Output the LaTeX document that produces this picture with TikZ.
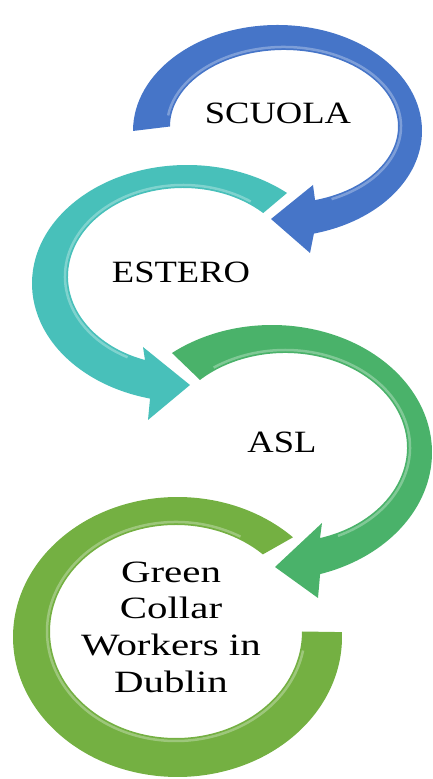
\documentclass[tikz,border=0pt]{standalone}
\usepackage{fontspec}
\newfontfamily\lblfont{Liberation Serif}[FakeStretch=1.18]
\newfontfamily\widefont{Liberation Serif}[FakeStretch=1.32]
\usetikzlibrary{calc}

\definecolor{scuolablue}{RGB}{70,117,200}
\definecolor{esterotea}{RGB}{72,192,186}
\definecolor{aslgreen}{RGB}{74,178,106}
\definecolor{dublingreen}{RGB}{116,176,66}

\tikzset{
  band/.style={fill=#1},
  shine/.style={draw=white, opacity=0.3, line width=2.5pt},
  lbl/.style={font={\lblfont\fontsize{31}{36.7}\selectfont}, align=center, inner sep=0pt}
}

\begin{document}
\begin{tikzpicture}[x=1pt, y=1pt]
\useasboundingbox (0,0) rectangle (432,779);

% centres of the outer / inner ellipses
\coordinate (bo) at (277.5,648);  \coordinate (bi) at (284,652.5);
\coordinate (to) at (187,495.5);  \coordinate (ti) at (183,502.5);
\coordinate (go) at (272,326.5);  \coordinate (gi) at (285.2,331.5);
\coordinate (do) at (177.5,142);  \coordinate (di) at (176,147.5);

% last ring: open on the right, no head
\fill[band=dublingreen] ($(do)+(45.4:164.5 and 140)$) arc[start angle=45.4, end angle=362, x radius=164.5, y radius=140]
  -- ($(di)+(360:126 and 106.5)$) arc[start angle=360, end angle=46.4, x radius=126, y radius=106.5] -- cycle;
\draw[shine] ($(di)+(60:129 and 109.5)$) arc[start angle=60, end angle=350, x radius=129, y radius=109.5];

% ASL arrow (clockwise)
\fill[band=aslgreen] ($(go)+(128.7:160 and 127.5)$) arc[start angle=128.7, end angle=-72.5, x radius=160, y radius=127.5]
  -- (318,181) -- (275,212) -- (322,256)
  -- ($(gi)+(-73.4:121.8 and 94.5)$) arc[start angle=-73.4, end angle=134.4, x radius=121.8, y radius=94.5] -- cycle;
\draw[shine] ($(gi)+(-65:124.8 and 97.5)$) arc[start angle=-65, end angle=125, x radius=124.8, y radius=97.5];

% ESTERO arrow (counter-clockwise)
\fill[band=esterotea] ($(to)+(49.8:155 and 118.5)$) arc[start angle=49.8, end angle=256.2, x radius=155, y radius=118.5]
  -- (148,359) -- (190,394) -- (143,432)
  -- ($(ti)+(250.7:115 and 88.5)$) arc[start angle=250.7, end angle=45.8, x radius=115, y radius=88.5] -- cycle;
\draw[shine] ($(ti)+(242:118 and 91.5)$) arc[start angle=242, end angle=55, x radius=118, y radius=91.5];

% SCUOLA arrow (clockwise)
\fill[band=scuolablue] ($(bo)+(180:144.5 and 106)$) arc[start angle=180, end angle=-75.4, x radius=144.5, y radius=106]
  -- (310,526) -- (271,560) -- (313,594)
  -- ($(bi)+(-74.2:114 and 76.5)$) arc[start angle=-74.2, end angle=180, x radius=114, y radius=76.5] -- cycle;
\draw[shine] ($(bi)+(-66:117 and 79.5)$) arc[start angle=-66, end angle=172, x radius=117, y radius=79.5];

% labels
\node[lbl] (scuola) at (278,666) {SCUOLA};
\node[lbl] (estero) at (181,507) {ESTERO};
\node[lbl] (asl) at (282,337) {ASL};
\node[lbl, font={\widefont\fontsize{31}{36.7}\selectfont}] (dublin) at (171,152) {Green\\Collar\\Workers in\\Dublin};

\end{tikzpicture}
\end{document}
